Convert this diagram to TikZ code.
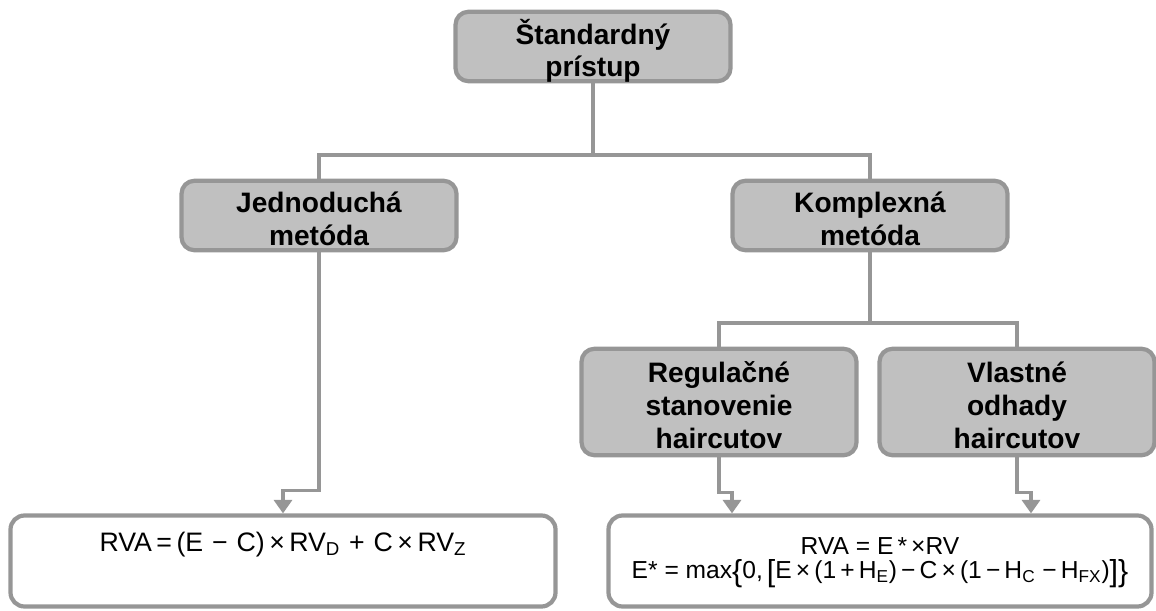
\documentclass[tikz,border=0pt]{standalone}
\usepackage{fontspec}
\setmainfont{Liberation Sans}
\usetikzlibrary{arrows.meta}
\definecolor{boxfill}{HTML}{C0C0C0}
\definecolor{boxline}{HTML}{969696}
\begin{document}
\begin{tikzpicture}[
  method/.style={draw=boxline, fill=boxfill, line width=2.4pt, rounded corners=0.26cm,
    minimum width=5.5cm, align=center, inner sep=0pt,
    font=\bfseries\fontsize{16}{18.6}\selectfont},
  formula/.style={draw=boxline, line width=2.4pt, rounded corners=0.28cm, align=center,
    inner sep=0pt},
  wire/.style={draw=boxline, line width=2.1pt},
  tip/.style={-{Triangle[width=0.36cm,length=0.27cm]}}
]
\useasboundingbox (0,0) rectangle (23.12,12.2);
\node[method, text height=1.305cm, text depth=0.085cm] (std) at (11.86,11.27) {Štandardný\\prístup};
\node[method, text height=1.285cm, text depth=0.105cm] (jedn) at (6.38,7.89) {Jednoduchá\\metóda};
\node[method, text height=1.285cm, text depth=0.105cm] (kompl) at (17.4,7.89) {Komplexná\\metóda};
\node[method, text height=1.985cm, text depth=0.145cm] (reg) at (14.38,4.16) {Regulačné\\stanovenie\\haircutov};
\node[method, text height=1.985cm, text depth=0.145cm] (vlast) at (20.34,4.16) {Vlastné\\odhady\\haircutov};
\node[formula, text width=10.9cm, text height=0.72cm, text depth=1.1cm,
  font=\fontsize{15.2}{17}\selectfont] (fleft) at (5.66,0.98)
  {RVA\,=\,(E − C)\,×\,RV\textsubscript{D} + C\,×\,RV\textsubscript{Z}};
\node[formula, text width=10.86cm, text height=0.78cm, text depth=1.04cm,
  font=\fontsize{14}{13.7}\selectfont] (fright) at (17.6,0.98)
  {RVA\;=\;E\,*\,×RV\\
   E*\;=\;max\raisebox{-1.5pt}{\LARGE\{}0,\,\raisebox{-1.5pt}{\LARGE[}E\,×\,(1\,+\,H\textsubscript{E})\,−\,C\,×\,(1\,−\,H\textsubscript{C}\;−\,H\textsubscript{FX})\raisebox{-1.5pt}{\LARGE]\}}};
\coordinate (fork1) at (11.86,9.1);
\coordinate (fork2) at (17.4,5.74);
\draw[wire] (std.south) -- (fork1);
\draw[wire] (fork1) -| (jedn.north);
\draw[wire] (fork1) -| (kompl.north);
\draw[wire] (kompl.south) -- (fork2);
\draw[wire] (fork2) -| (reg.north);
\draw[wire] (fork2) -| (vlast.north);
\draw[wire,tip] (jedn.south) -- ++(0,-4.76) -| (fleft.north);
\draw[wire,tip] (reg.south) -- ++(0,-0.7) -| ([xshift=-2.96cm]fright.north);
\draw[wire,tip] (vlast.south) -- ++(0,-0.7) -| ([xshift=3.02cm]fright.north);
\end{tikzpicture}
\end{document}
